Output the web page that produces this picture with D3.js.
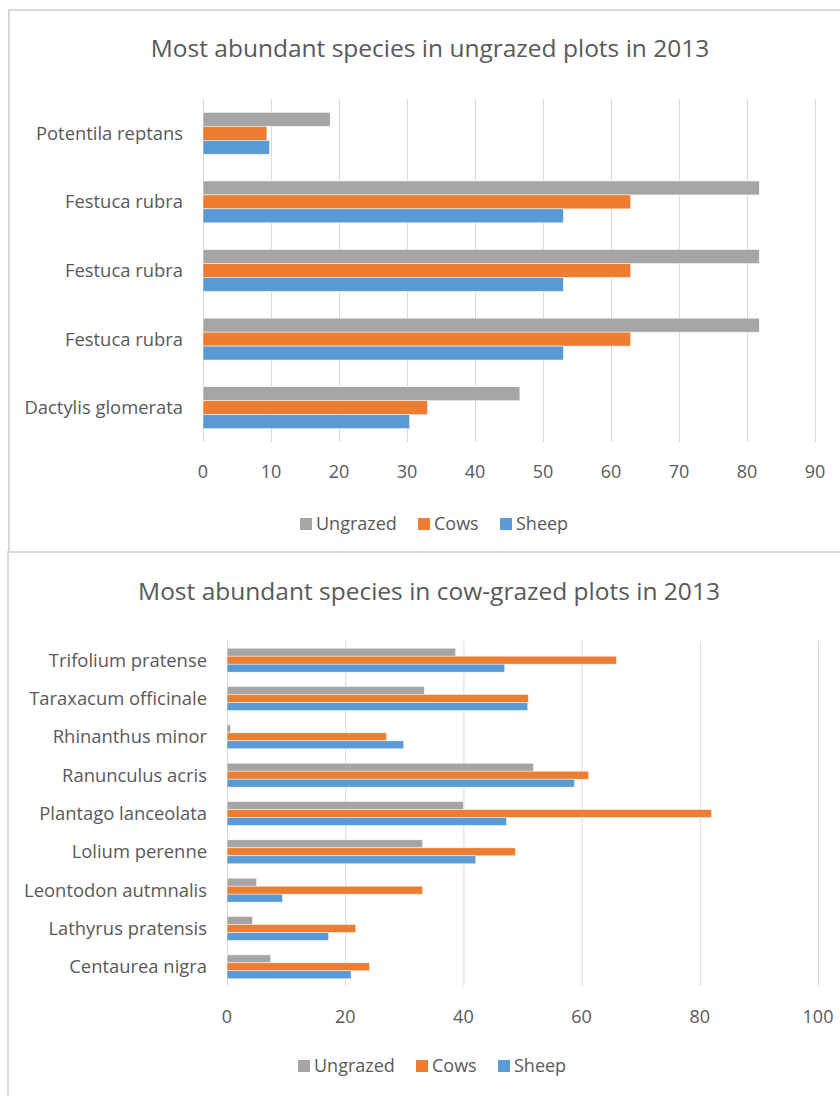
<!doctype html>
<html lang="en">
<head>
	<meta charset="UTF-8">
	<title>Most abundant species 2013</title>
	<script src="https://d3js.org/d3.v7.min.js"></script>
	<style>
		body {
			margin: 0;
			padding: 0;
			background: #fff;
			font-family: 'Open Sans', sans-serif;
		}
		svg text {
			fill: #595959;
		}
		.grid line {
			stroke: #d9d9d9;
		}
		.grid .domain {
			display: none;
		}
	</style>
</head>
<body>
	<svg id="canvas" width="840" height="1096"></svg>

	<script>
		// Series names and colours
		const seriesNames = ['Ungrazed', 'Cows', 'Sheep'];
		const seriesColors = ['#a5a5a5', '#ed7d31', '#5b9bd5'];

		// Chart 1 - ungrazed plots (top to bottom)
		const topCategories = ['Potentila reptans', 'Festuca rubra', 'Festuca rubra', 'Festuca rubra', 'Dactylis glomerata'];
		const topUngrazed = [18.7, 81.8, 81.8, 81.8, 46.6];
		const topCows = [9.4, 62.9, 62.9, 62.9, 33.0];
		const topSheep = [9.8, 53.0, 53.0, 53.0, 30.4];
		const topTicks = [0, 10, 20, 30, 40, 50, 60, 70, 80, 90];

		// Chart 2 - cow-grazed plots (top to bottom)
		const bottomCategories = ['Trifolium pratense', 'Taraxacum officinale', 'Rhinanthus minor', 'Ranunculus acris',
			'Plantago lanceolata', 'Lolium perenne', 'Leontodon autmnalis', 'Lathyrus pratensis', 'Centaurea nigra'];
		const bottomUngrazed = [38.7, 33.4, 0.6, 51.9, 40.0, 33.1, 5.0, 4.3, 7.4];
		const bottomCows = [65.9, 51.0, 27.0, 61.2, 82.0, 48.8, 33.1, 21.8, 24.1];
		const bottomSheep = [47.0, 50.9, 29.9, 58.8, 47.3, 42.1, 9.4, 17.2, 21.0];
		const bottomTicks = [0, 20, 40, 60, 80, 100];

		const svg = d3.select('#canvas');

		function drawChart(opts) {
			const g = svg.append('g');

			// panel border
			g.append('rect')
				.attr('x', opts.frame[0])
				.attr('y', opts.frame[1])
				.attr('width', opts.frame[2])
				.attr('height', opts.frame[3])
				.attr('fill', '#fff')
				.attr('stroke', '#d9d9d9')
				.attr('stroke-width', 2);

			// title
			g.append('text')
				.attr('x', opts.titleX)
				.attr('y', opts.titleY)
				.attr('text-anchor', 'middle')
				.attr('font-size', 24.5)
				.text(opts.title);

			const x = d3.scaleLinear()
				.domain([0, opts.ticks[opts.ticks.length - 1]])
				.range([opts.left, opts.right]);

			const y = d3.scaleBand()
				.domain(d3.range(opts.categories.length))
				.range([opts.top, opts.bottom])
				.paddingInner(opts.gap)
				.paddingOuter(opts.gap / 2);

			const ySeries = d3.scaleBand()
				.domain(seriesNames)
				.range([0, y.bandwidth()]);

			const color = d3.scaleOrdinal()
				.domain(seriesNames)
				.range(seriesColors);

			// vertical gridlines
			g.append('g')
				.attr('class', 'grid')
				.attr('transform', 'translate(0,' + opts.bottom + ')')
				.call(d3.axisBottom(x).tickValues(opts.ticks).tickSize(-(opts.bottom - opts.top)).tickFormat(''));

			// value tick labels
			g.append('g')
				.selectAll('text')
				.data(opts.ticks)
				.enter().append('text')
				.attr('x', (d) => x(d))
				.attr('y', opts.tickY)
				.attr('text-anchor', 'middle')
				.attr('font-size', 18)
				.text((d) => d);

			// category labels
			g.append('g')
				.selectAll('text')
				.data(opts.categories)
				.enter().append('text')
				.attr('x', opts.left - opts.labelGap)
				.attr('y', (d, i) => y(i) + y.bandwidth() / 2)
				.attr('dy', '0.35em')
				.attr('text-anchor', 'end')
				.attr('font-size', 18.4)
				.text((d) => d);

			// bars
			const rows = opts.categories.map((c, i) => seriesNames.map((s, k) => ({ row: i, series: s, value: opts.values[k][i] })));

			g.append('g')
				.selectAll('g')
				.data(rows)
				.enter().append('g')
				.attr('transform', (d, i) => 'translate(0,' + y(i) + ')')
				.selectAll('rect')
				.data((d) => d)
				.enter().append('rect')
				.attr('x', x(0))
				.attr('y', (d) => ySeries(d.series))
				.attr('width', (d) => x(d.value) - x(0))
				.attr('height', ySeries.bandwidth())
				.attr('fill', (d) => color(d.series))
				.attr('stroke', '#fff')
				.attr('stroke-width', 0.5);

			// legend
			const legend = g.append('g')
				.attr('transform', 'translate(' + opts.legendX + ',' + opts.legendY + ')');

			const legendOffsets = [0, 118, 200];
			const item = legend.selectAll('.legend')
				.data(seriesNames)
				.enter().append('g')
				.attr('class', 'legend')
				.attr('transform', (d, i) => 'translate(' + legendOffsets[i] + ',0)');

			item.append('rect')
				.attr('x', 0)
				.attr('y', -12)
				.attr('width', 12)
				.attr('height', 12)
				.attr('fill', color);

			item.append('text')
				.attr('x', 16)
				.attr('y', 0)
				.attr('font-size', 18)
				.text((d) => d);
		}

		drawChart({
			title: 'Most abundant species in ungrazed plots in 2013',
			frame: [9, 10, 840, 542],
			titleX: 430,
			titleY: 57,
			categories: topCategories,
			values: [topUngrazed, topCows, topSheep],
			ticks: topTicks,
			left: 203,
			right: 815,
			top: 99,
			bottom: 442,
			gap: 0.39,
			labelGap: 20,
			tickY: 478,
			legendX: 300,
			legendY: 530
		});

		drawChart({
			title: 'Most abundant species in cow-grazed plots in 2013',
			frame: [8, 552, 840, 560],
			titleX: 429,
			titleY: 600,
			categories: bottomCategories,
			values: [bottomUngrazed, bottomCows, bottomSheep],
			ticks: bottomTicks,
			left: 227,
			right: 818,
			top: 641,
			bottom: 986,
			gap: 0.375,
			labelGap: 20,
			tickY: 1023,
			legendX: 298,
			legendY: 1072
		});
	</script>
</body>
</html>
